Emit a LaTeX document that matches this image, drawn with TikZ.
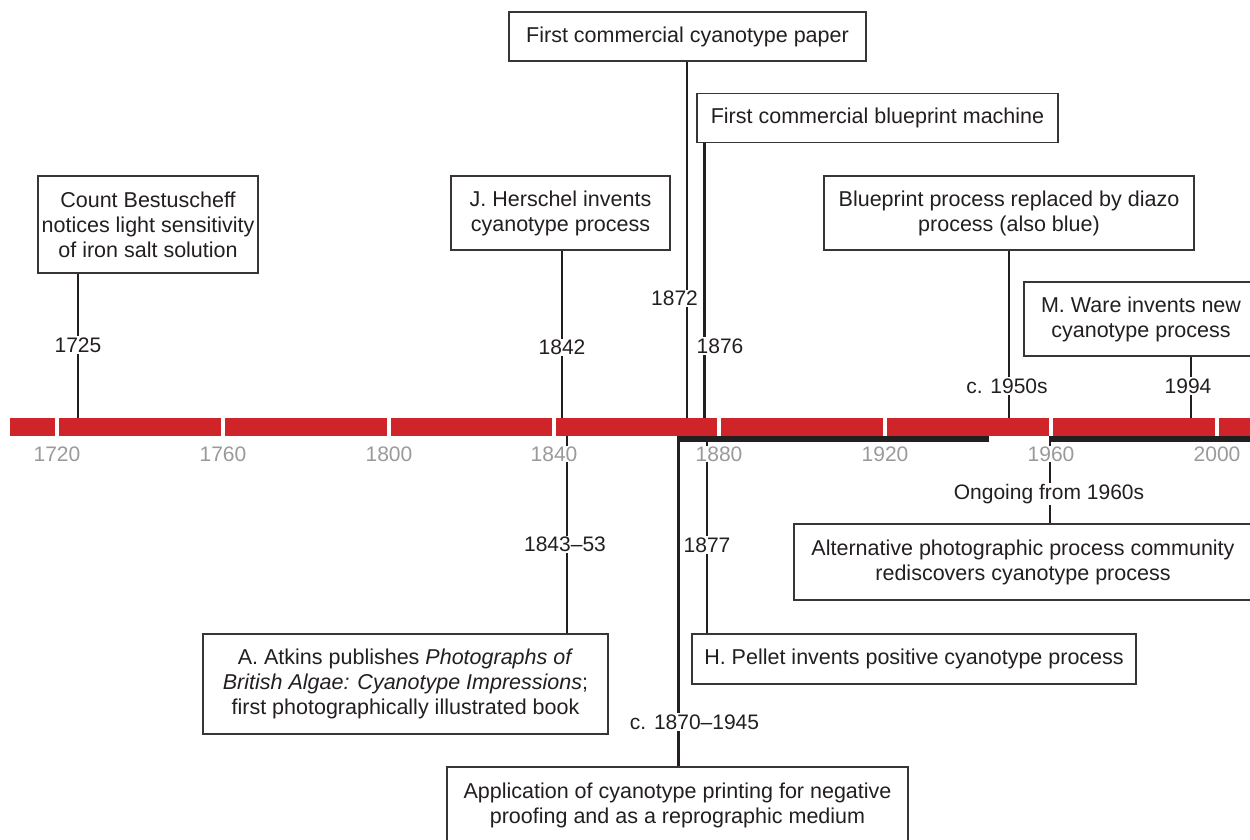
\documentclass[tikz,border=0pt]{standalone}
\usepackage{fontspec}
\setmainfont{Liberation Sans}
\definecolor{tlred}{HTML}{D0242B}
\definecolor{tlgray}{HTML}{9A9A9A}
\definecolor{tldark}{HTML}{231F20}
\begin{document}
\begin{tikzpicture}[x=1pt,y=-1pt,
  evbox/.style={draw=tldark!90, line width=1.3pt, fill=white, align=center, inner sep=0pt,
    font=\fontsize{21.5}{25}\selectfont, text=tldark},
  conn/.style={draw=tldark, line width=2.7pt},
  yearlbl/.style={fill=white, inner sep=1.5pt, font=\fontsize{21}{25}\selectfont, text=tldark},
  ticklbl/.style={fill=white, inner sep=1pt, font=\fontsize{21}{25}\selectfont, text=tlgray}]
\useasboundingbox (0,0) rectangle (1250,839);
\clip (0,0) rectangle (1250,839);

% bar anchor points
\coordinate (p1725) at (78,418);
\coordinate (p1842) at (562,418);
\coordinate (p1872) at (687,418);
\coordinate (p1876) at (704.5,418);
\coordinate (p1950) at (1009,418);
\coordinate (p1994) at (1191,418);
\coordinate (p1843) at (567,436);
\coordinate (p1877) at (707,441);
\coordinate (p1870) at (678.5,441);
\coordinate (p1960) at (1050,441);

% event boxes
\node[evbox, minimum width=220pt, minimum height=97pt] (bestu) at (148,224.5)
  {Count Bestuscheff\\notices light sensitivity\\of iron salt solution};
\node[evbox, minimum width=219pt, minimum height=74pt] (hersch) at (560.5,213)
  {J. Herschel invents\\cyanotype process};
\node[evbox, minimum width=357pt, minimum height=49pt] (paper) at (687.5,36.5)
  {First commercial cyanotype paper};
\node[evbox, minimum width=361pt, minimum height=49pt] (machine) at (877.5,118)
  {First commercial blueprint machine};
\node[evbox, minimum width=370pt, minimum height=74pt] (diazo) at (1009,213)
  {Blueprint process replaced by diazo\\process (also blue)};
\node[evbox, minimum width=234pt, minimum height=74pt] (ware) at (1141,319)
  {M. Ware invents new\\cyanotype process};
\node[evbox, minimum width=458pt, minimum height=76pt] (altern) at (1023,562)
  {Alternative photographic process community\\rediscovers cyanotype process};
\node[evbox, minimum width=444pt, minimum height=50pt] (pellet) at (914,659)
  {H. Pellet invents positive cyanotype process};
\node[evbox, minimum width=405pt, minimum height=100pt] (atkins) at (405.5,684)
  {A. Atkins publishes \textit{Photographs of}\\\textit{British Algae: Cyanotype Impressions};\\first photographically illustrated book};
\node[evbox, minimum width=461pt, minimum height=76pt] (appl) at (677.5,805)
  {Application of cyanotype printing for negative\\proofing and as a reprographic medium};

% connectors
\draw[conn] (bestu.south -| p1725) -- (p1725);
\draw[conn] (hersch.south -| p1842) -- (p1842);
\draw[conn] (paper.south -| p1872) -- (p1872);
\draw[conn] (machine.south -| p1876) -- (p1876);
\draw[conn] (diazo.south -| p1950) -- (p1950);
\draw[conn] (ware.south -| p1994) -- (p1994);
\draw[conn] (p1843) -- (atkins.north -| p1843);
\draw[conn] (p1877) -- (pellet.north -| p1877);
\draw[conn] (p1870) -- (appl.north -| p1870);
\draw[conn] (p1960) -- (altern.north -| p1960);

% timeline bar
\fill[tlred] (10,418) rectangle (1252,436);
\foreach \x in {57,223,389,554,719,885,1051,1217}
  \fill[white] (\x-1.6,418) rectangle (\x+1.6,436);
\fill[tldark] (677,436) rectangle (989,441.5);
\fill[tldark] (1049,436) rectangle (1252,441.5);

% tick labels
\foreach \x/\yr in {57/1720,223/1760,389/1800,554/1840,719/1880,885/1920,1051/1960,1217/2000}
  \node[ticklbl] (tick\yr) at (\x,454) {\yr};

% year labels
\node[yearlbl] (l1725) at (78,345) {1725};
\node[yearlbl] (l1842) at (562,347.5) {1842};
\node[yearlbl] (l1872) at (674.5,298.5) {1872};
\node[yearlbl] (l1876) at (720,346) {1876};
\node[yearlbl] (l1950) at (1007,386) {c. 1950s};
\node[yearlbl] (l1994) at (1188,386) {1994};
\node[yearlbl] (l1843) at (565,544.5) {1843–53};
\node[yearlbl] (l1877) at (707,545) {1877};
\node[yearlbl] (l1870) at (694.5,722) {c. 1870–1945};
\node[yearlbl] (l1960) at (1049,494) {Ongoing from 1960s};
\end{tikzpicture}
\end{document}
